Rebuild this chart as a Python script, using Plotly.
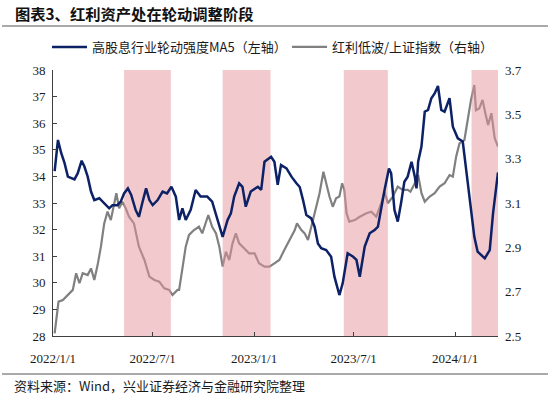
import plotly.graph_objects as go

# ---- data ----
rot_dates = [
    "2022-01-04", "2022-01-07", "2022-01-10", "2022-01-16", "2022-01-22", "2022-01-28", "2022-02-09", "2022-02-15",
    "2022-02-22", "2022-02-27", "2022-03-05", "2022-03-11", "2022-03-17", "2022-03-26", "2022-04-04", "2022-04-13",
    "2022-04-19", "2022-04-28", "2022-05-04", "2022-05-10", "2022-05-17", "2022-05-23", "2022-05-31", "2022-06-06",
    "2022-06-12", "2022-06-19", "2022-06-25", "2022-07-01", "2022-07-10", "2022-07-19", "2022-07-27", "2022-08-04",
    "2022-08-12", "2022-08-18", "2022-08-24", "2022-08-30", "2022-09-08", "2022-09-17", "2022-09-26", "2022-10-08",
    "2022-10-17", "2022-10-27", "2022-11-05", "2022-11-14", "2022-11-20", "2022-11-26", "2022-12-05", "2022-12-11",
    "2022-12-17", "2022-12-26", "2023-01-08", "2023-01-14", "2023-01-20", "2023-02-01", "2023-02-07", "2023-02-13",
    "2023-02-19", "2023-03-01", "2023-03-10", "2023-03-19", "2023-03-25", "2023-03-31", "2023-04-06", "2023-04-15",
    "2023-04-21", "2023-04-27", "2023-05-03", "2023-05-12", "2023-05-21", "2023-05-27", "2023-06-05", "2023-06-11",
    "2023-06-20", "2023-06-30", "2023-07-06", "2023-07-12", "2023-07-21", "2023-07-30", "2023-08-08", "2023-08-14",
    "2023-08-20", "2023-08-26", "2023-09-03", "2023-09-07", "2023-09-13", "2023-09-19", "2023-09-25", "2023-10-01",
    "2023-10-07", "2023-10-14", "2023-10-20", "2023-10-23", "2023-10-26", "2023-11-01", "2023-11-07", "2023-11-13",
    "2023-11-19", "2023-11-25", "2023-12-01", "2023-12-07", "2023-12-13", "2023-12-22", "2023-12-28", "2024-01-06",
    "2024-01-15", "2024-01-21", "2024-01-27", "2024-01-30", "2024-02-05", "2024-02-11", "2024-02-24", "2024-03-04",
    "2024-03-10", "2024-03-19",
]
rot_values = [
    34.2, 34.93, 35.37, 34.87, 34.5, 33.99, 33.89, 34.12,
    34.59, 34.37, 33.99, 33.43, 33.11, 33.18, 32.99, 32.8,
    32.92, 32.92, 33.05, 33.36, 33.55, 33.3, 32.74, 32.48,
    32.99, 33.55, 33.11, 32.92, 33.11, 33.43, 33.36, 33.61,
    33.24, 32.36, 32.8, 32.36, 32.74, 33.49, 33.24, 33.24,
    33.05, 32.36, 31.73, 32.36, 32.61, 33.24, 33.74, 33.61,
    32.86, 33.43, 33.61, 33.49, 34.55, 34.74, 34.55, 33.68,
    34.43, 34.3, 33.99, 33.74, 33.6, 33.11, 32.55, 32.42,
    32.11, 31.48, 31.3, 31.23, 30.98, 30.23, 29.54, 29.98,
    31.11, 30.98, 30.86, 30.23, 31.36, 31.86, 31.98, 32.11,
    32.86, 33.49, 34.3, 34.12, 32.74, 32.3, 33.0, 33.8,
    33.99, 34.55, 33.99, 33.55, 34.55, 35.12, 36.43, 36.5,
    36.94, 37.12, 37.4, 36.5, 36.43, 36.94, 35.87, 35.43,
    35.31, 34.24, 33.11, 32.61, 31.73, 31.17, 30.92, 31.23,
    32.61, 34.15,
]

div_dates = [
    "2022-01-04", "2022-01-07", "2022-01-11", "2022-01-19", "2022-01-28", "2022-02-06", "2022-02-12", "2022-02-18",
    "2022-02-24", "2022-03-05", "2022-03-11", "2022-03-17", "2022-03-23", "2022-03-29", "2022-04-04", "2022-04-10",
    "2022-04-16", "2022-04-22", "2022-04-26", "2022-05-01", "2022-05-07", "2022-05-13", "2022-05-19", "2022-05-28",
    "2022-06-06", "2022-06-16", "2022-06-25", "2022-07-04", "2022-07-13", "2022-07-22", "2022-07-31", "2022-08-06",
    "2022-08-15", "2022-08-18", "2022-08-24", "2022-08-30", "2022-09-05", "2022-09-14", "2022-09-23", "2022-09-29",
    "2022-10-10", "2022-10-17", "2022-10-24", "2022-10-30", "2022-11-05", "2022-11-11", "2022-11-17", "2022-11-23",
    "2022-11-29", "2022-12-05", "2022-12-14", "2022-12-23", "2023-01-02", "2023-01-10", "2023-01-20", "2023-01-29",
    "2023-02-07", "2023-02-16", "2023-02-25", "2023-03-07", "2023-03-16", "2023-03-20", "2023-03-28", "2023-04-03",
    "2023-04-09", "2023-04-15", "2023-04-24", "2023-04-30", "2023-05-07", "2023-05-12", "2023-05-18", "2023-05-24",
    "2023-05-30", "2023-06-05", "2023-06-10", "2023-06-14", "2023-06-18", "2023-06-23", "2023-07-03", "2023-07-12",
    "2023-07-24", "2023-08-02", "2023-08-11", "2023-08-20", "2023-08-26", "2023-09-01", "2023-09-10", "2023-09-19",
    "2023-09-28", "2023-10-07", "2023-10-12", "2023-10-20", "2023-10-26", "2023-11-01", "2023-11-07", "2023-11-16",
    "2023-11-25", "2023-12-04", "2023-12-13", "2023-12-22", "2023-12-28", "2024-01-03", "2024-01-09", "2024-01-18",
    "2024-01-24", "2024-01-30", "2024-02-05", "2024-02-08", "2024-02-14", "2024-02-20", "2024-02-25", "2024-03-01",
    "2024-03-07", "2024-03-13", "2024-03-19",
]
div_values = [
    2.512, 2.587, 2.655, 2.662, 2.685, 2.708, 2.783, 2.738,
    2.783, 2.775, 2.805, 2.753, 2.82, 2.903, 3.008, 3.061,
    3.023, 3.099, 3.144, 3.076, 3.106, 3.076, 3.038, 3.008,
    2.903, 2.843, 2.768, 2.753, 2.745, 2.715, 2.708, 2.685,
    2.708, 2.708, 2.813, 2.903, 2.956, 2.978, 2.993, 2.963,
    3.046, 2.993, 2.963, 2.903, 2.813, 2.88, 2.843, 2.918,
    2.963, 2.918, 2.896, 2.873, 2.873, 2.828, 2.813, 2.813,
    2.828, 2.843, 2.888, 2.933, 2.978, 3.008, 2.978, 2.963,
    2.933, 2.993, 3.083, 3.144, 3.241, 3.189, 3.129, 3.083,
    3.121, 3.129, 3.189, 3.159, 3.054, 3.016, 3.023, 3.038,
    3.054, 3.061, 3.038, 3.099, 3.151, 3.099, 3.129, 3.174,
    3.159, 3.159, 3.151, 3.189, 3.226, 3.144, 3.106, 3.129,
    3.144, 3.174, 3.189, 3.226, 3.219, 3.309, 3.369, 3.384,
    3.474, 3.565, 3.632, 3.519, 3.527, 3.565, 3.505, 3.452,
    3.505, 3.392, 3.354,
]

shade_starts = ["2022-05-10", "2022-11-05", "2023-06-13", "2024-01-31"]
shade_ends = ["2022-08-03", "2023-01-31", "2023-09-01", "2024-03-19"]

x_tickvals = ["2022-01-01", "2022-07-01", "2023-01-01", "2023-07-01", "2024-01-01"]
x_ticktext = ["2022/1/1", "2022/7/1", "2023/1/1", "2023/7/1", "2024/1/1"]
left_ticks = [28, 29, 30, 31, 32, 33, 34, 35, 36, 37, 38]
right_ticks = [2.5, 2.7, 2.9, 3.1, 3.3, 3.5, 3.7]

name_rot = "高股息行业轮动强度MA5（左轴）"
name_div = "红利低波/上证指数（右轴）"
title_text = "图表3、红利资产处在轮动调整阶段"
source_text = "资料来源：Wind，兴业证券经济与金融研究院整理"

# ---- figure ----
serif = "Liberation Serif"
cjk = "Noto Sans CJK SC"

# shaded periods as one filled trace on the right-axis scale
sx, sy = [], []
for a, b in zip(shade_starts, shade_ends):
    sx += [a, a, b, b, a, None]
    sy += [right_ticks[0], right_ticks[-1], right_ticks[-1], right_ticks[0], right_ticks[0], None]

fig = go.Figure()
fig.add_trace(go.Scatter(x=div_dates, y=div_values, mode="lines", name=name_div,
                         line=dict(color="#808080", width=2.2), yaxis="y", legend="legend2"))
fig.add_trace(go.Scatter(x=sx, y=sy, mode="lines", fill="toself", fillcolor="rgba(229,150,155,0.5)",
                         line=dict(width=0), showlegend=False, hoverinfo="skip", yaxis="y"))
fig.add_trace(go.Scatter(x=rot_dates, y=rot_values, mode="lines", name=name_rot,
                         line=dict(color="#0d2266", width=2.5), yaxis="y2", legend="legend"))

L, R, T, B = 53, 52, 70, 59
W, H = 550, 395
pw, ph = W - L - R, H - T - B

def px_x(x):
    return (x - L) / pw

def px_y(y):
    return (H - B - y) / ph

legend_common = dict(orientation="h", xref="container", yref="container",
                     xanchor="left", y=1 - 47 / H, yanchor="middle",
                     font=dict(family=cjk, size=13, color="#1a1a1a"),
                     itemwidth=35, bgcolor="rgba(0,0,0,0)", borderwidth=0)

fig.update_layout(
    width=W, height=H,
    margin=dict(l=L, r=R, t=T, b=B, autoexpand=False),
    paper_bgcolor="white", plot_bgcolor="white",
    font=dict(family=serif, size=13, color="#1a1a1a"),
    title=dict(text=title_text, x=15 / W, xanchor="left", xref="container",
               y=1 - 15 / H, yanchor="middle", yref="container",
               font=dict(family=cjk, size=15.3, color="#111111", weight="bold")),
    showlegend=True,
    legend=dict(x=47 / W, **legend_common),
    legend2=dict(x=287 / W, **legend_common),
    xaxis=dict(type="date", range=["2022-01-01", "2024-03-19"],
               tickvals=x_tickvals, ticktext=x_ticktext,
               showgrid=False, zeroline=False, showline=True, linecolor="#404040", linewidth=1,
               ticks="inside", ticklen=4, tickcolor="#404040", ticklabelstandoff=10,
               tickfont=dict(family=serif, size=13)),
    yaxis=dict(side="right", range=[2.5, 3.7], tickvals=right_ticks, tickformat=".1f",
               showgrid=False, zeroline=False, showline=False, ticks="",
               ticklabelstandoff=6, tickfont=dict(family=serif, size=13)),
    yaxis2=dict(side="left", overlaying="y", range=[28, 38], tickvals=left_ticks,
                showgrid=False, zeroline=False, showline=True, linecolor="#404040", linewidth=1,
                ticks="inside", ticklen=4, tickcolor="#404040", ticklabelstandoff=4,
                tickfont=dict(family=serif, size=13)),
    shapes=[
        dict(type="line", xref="paper", yref="paper", x0=px_x(2), x1=px_x(548),
             y0=px_y(26), y1=px_y(26), line=dict(color="#555555", width=1)),
        dict(type="line", xref="paper", yref="paper", x0=px_x(2), x1=px_x(548),
             y0=px_y(374), y1=px_y(374), line=dict(color="#555555", width=1)),
    ],
    annotations=[
        dict(text=source_text, xref="paper", yref="paper", x=px_x(12), y=px_y(385),
             xanchor="left", yanchor="middle", showarrow=False,
             font=dict(family=cjk, size=13, color="#1a1a1a")),
    ],
)

fig.write_html("out.html", config={"displayModeBar": False},
               post_script="document.body.style.margin='0';")
